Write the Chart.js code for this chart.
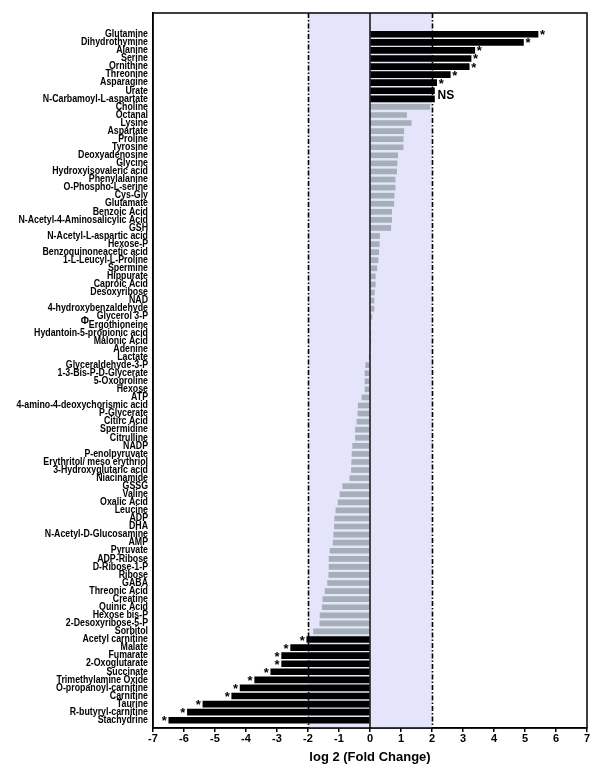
<!DOCTYPE html>
<html lang="en">
<head>
  <meta charset="UTF-8">
  <title>log2 Fold Change</title>
  <script src="https://cdn.jsdelivr.net/npm/chart.js"></script>
  <style>
    body {
      margin: 0;
      background-color: #fff;
    }
  </style>
</head>
<body>
  <canvas id="chartCanvas" width="600" height="769"></canvas>

  <script>
    // Metabolites, top to bottom
    const metabolites = [
      'Glutamine', 'Dihydrothymine', 'Alanine', 'Serine', 'Ornithine', 'Threonine', 'Asparagine', 'Urate',
      'N-Carbamoyl-L-aspartate', 'Choline', 'Octanal', 'Lysine', 'Aspartate', 'Proline', 'Tyrosine',
      'Deoxyadenosine', 'Glycine', 'Hydroxyisovaleric acid', 'Phenylalanine', 'O-Phospho-L-serine', 'Cys-Gly',
      'Glutamate', 'Benzoic Acid', 'N-Acetyl-4-Aminosalicylic Acid', 'GSH', 'N-Acetyl-L-aspartic acid',
      'Hexose-P', 'Benzoquinoneacetic acid', '1-L-Leucyl-L-Proline', 'Spermine', 'Hippurate', 'Caproic Acid',
      'Desoxyribose', 'NAD', '4-hydroxybenzaldehyde', 'Glycerol 3-P', 'Ergothioneine',
      'Hydantoin-5-propionic acid', 'Malonic Acid', 'Adenine', 'Lactate', 'Glyceraldehyde-3-P',
      '1-3-Bis-P-D-Glycerate', '5-Oxoproline', 'Hexose', 'ATP', '4-amino-4-deoxychorismic acid', 'P-Glycerate',
      'Citirc Acid', 'Spermidine', 'Citrulline', 'NADP', 'P-enolpyruvate', 'Erythritol/ meso erythriol',
      '3-Hydroxyglutaric acid', 'Niacinamide', 'GSSG', 'Valine', 'Oxalic Acid', 'Leucine', 'ADP', 'DHA',
      'N-Acetyl-D-Glucosamine', 'AMP', 'Pyruvate', 'ADP-Ribose', 'D-Ribose-1-P', 'Ribose', 'GABA',
      'Threonic Acid', 'Creatine', 'Quinic Acid', 'Hexose bis-P', '2-Desoxyribose-5-P', 'Sorbitol',
      'Acetyl carnitine', 'Malate', 'Fumarate', '2-Oxoglutarate', 'Succinate', 'Trimethylamine Oxide',
      'O-propanoyl-carnitine', 'Carnitine', 'Taurine', 'R-butyryl-carnitine', 'Stachydrine'
    ];

    // log2 fold change per metabolite
    const log2FC = [
      5.42, 4.95, 3.38, 3.26, 3.2, 2.59, 2.15, 2.08, 2.08, 1.93, 1.18, 1.33, 1.09, 1.07, 1.07,
      0.89, 0.87, 0.86, 0.81, 0.81, 0.78, 0.77, 0.70, 0.70, 0.67, 0.31, 0.30, 0.28, 0.26, 0.22,
      0.17, 0.17, 0.14, 0.13, 0.13, 0.06, 0.02, 0.01, 0.01, 0.0, -0.01, -0.14, -0.16, -0.16, -0.16,
      -0.26, -0.38, -0.39, -0.42, -0.47, -0.47, -0.56, -0.58, -0.59, -0.6, -0.65, -0.88, -0.97,
      -1.03, -1.1, -1.14, -1.15, -1.17, -1.19, -1.29, -1.32, -1.32, -1.33, -1.37, -1.45, -1.52,
      -1.54, -1.61, -1.62, -1.82, -2.04, -2.56, -2.85, -2.85, -3.2, -3.72, -4.19, -4.46, -5.39,
      -5.89, -6.49
    ];

    // significance marks ('*', 'NS' or '')
    const marks = metabolites.map(() => '');
    [0, 1, 2, 3, 4, 5, 6, 75, 76, 77, 78, 79, 80, 81, 82, 83, 84, 85].forEach(i => marks[i] = '*');
    marks[7] = 'NS';
    marks[8] = 'NS';

    const xTicks = [-7, -6, -5, -4, -3, -2, -1, 0, 1, 2, 3, 4, 5, 6, 7];
    const threshold = 2;

    const mainFont = '"Liberation Sans", Arial, sans-serif';
    const labelFontSize = 10;
    const labelSqueeze = 0.88; // labels in the original are set in a narrow face

    const sigData = [];
    const otherData = [];
    log2FC.forEach((v, i) => {
      if (marks[i]) sigData.push({x: v, y: i});
      else otherData.push({x: v, y: i});
    });

    const overlay = {
      id: 'overlay',
      beforeDatasetsDraw(chart) {
        const {ctx, chartArea: a, scales: {x}} = chart;
        const l = x.getPixelForValue(-threshold);
        const r = x.getPixelForValue(threshold);
        ctx.save();
        ctx.fillStyle = 'rgb(228,228,250)';
        ctx.fillRect(l, a.top, r - l, a.bottom - a.top);
        ctx.restore();
      },
      afterDatasetsDraw(chart) {
        const {ctx, chartArea: a, scales: {x, y}} = chart;
        ctx.save();
        ctx.strokeStyle = '#000';

        // threshold lines
        ctx.lineWidth = 1.6;
        ctx.setLineDash([5, 2, 1.5, 2]);
        [-threshold, threshold].forEach(t => {
          const px = Math.round(x.getPixelForValue(t)) + 0.5;
          ctx.beginPath();
          ctx.moveTo(px, a.top);
          ctx.lineTo(px, a.bottom);
          ctx.stroke();
        });

        // zero line
        ctx.setLineDash([]);
        ctx.lineWidth = 1.4;
        const z = x.getPixelForValue(0);
        ctx.beginPath();
        ctx.moveTo(z, a.top);
        ctx.lineTo(z, a.bottom);
        ctx.stroke();

        // box
        ctx.lineWidth = 1.5;
        ctx.strokeRect(a.left, a.top, a.right - a.left, a.bottom - a.top);

        // category labels, narrowed to match the original
        ctx.fillStyle = '#000';
        ctx.font = 'bold ' + labelFontSize + 'px ' + mainFont;
        ctx.textAlign = 'right';
        ctx.textBaseline = 'middle';
        metabolites.forEach((m, i) => {
          const w = ctx.measureText(m).width * labelSqueeze;
          ctx.fillText(m, a.left - 5, y.getPixelForValue(i), w);
        });

        // phi before Ergothioneine
        const ei = metabolites.indexOf('Ergothioneine');
        const ew = ctx.measureText('Ergothioneine').width * labelSqueeze;
        ctx.fillText('\u03A6', a.left - 5 - ew, y.getPixelForValue(ei) - 4);

        // significance marks
        ctx.font = 'bold 13px ' + mainFont;
        ctx.textBaseline = 'alphabetic';
        log2FC.forEach((v, i) => {
          if (marks[i] !== '*') return;
          const px = x.getPixelForValue(v);
          const py = y.getPixelForValue(i);
          if (v >= 0) {
            ctx.textAlign = 'left';
            ctx.fillText('*', px + 2, py + 5);
          } else {
            ctx.textAlign = 'right';
            ctx.fillText('*', px - 2, py + 5);
          }
        });
        const ns = log2FC.map((v, i) => i).filter(i => marks[i] === 'NS');
        if (ns.length) {
          const px = Math.max(...ns.map(i => x.getPixelForValue(log2FC[i])));
          const py = ns.reduce((s, i) => s + y.getPixelForValue(i), 0) / ns.length;
          ctx.font = 'bold 12px ' + mainFont;
          ctx.textAlign = 'left';
          ctx.textBaseline = 'middle';
          ctx.fillText('NS', px + 3, py + 1);
        }
        ctx.restore();
      }
    };

    const ctx = document.getElementById('chartCanvas').getContext('2d');
    new Chart(ctx, {
      type: 'bar',
      data: {
        datasets: [{
          data: sigData,
          backgroundColor: '#000',
          barThickness: 6,
          grouped: false
        }, {
          data: otherData,
          backgroundColor: '#a5afb8',
          barThickness: 5,
          grouped: false
        }]
      },
      options: {
        indexAxis: 'y',
        responsive: false,
        animation: false,
        layout: {
          padding: {left: 0, right: 13, top: 13, bottom: 0}
        },
        plugins: {
          legend: {display: false},
          tooltip: {enabled: false}
        },
        scales: {
          x: {
            type: 'linear',
            min: xTicks[0],
            max: xTicks[xTicks.length - 1],
            afterBuildTicks: (scale) => {
              scale.ticks = xTicks.map(v => ({value: v}));
            },
            afterFit: (scale) => {
              scale.height = 41;
            },
            grid: {
              drawOnChartArea: false,
              drawTicks: true,
              tickLength: 4,
              color: '#000',
              lineWidth: 1.5
            },
            border: {display: true, color: '#000', width: 1.5},
            ticks: {
              color: '#000',
              padding: 0,
              font: {family: mainFont, size: 11, weight: 'bold'}
            },
            title: {
              display: true,
              text: 'log 2 (Fold Change)',
              color: '#000',
              padding: {top: 0, bottom: 4},
              font: {family: mainFont, size: 13, weight: 'bold'}
            }
          },
          y: {
            type: 'linear',
            reverse: true,
            min: -2.12,
            max: metabolites.length - 1 + 0.45,
            afterBuildTicks: (scale) => {
              scale.ticks = metabolites.map((m, i) => ({value: i}));
            },
            afterFit: (scale) => {
              scale.width = 153;
            },
            grid: {display: false, drawTicks: false},
            border: {display: true, color: '#000', width: 1.5},
            ticks: {display: false}
          }
        }
      },
      plugins: [overlay]
    });
  </script>
</body>
</html>
